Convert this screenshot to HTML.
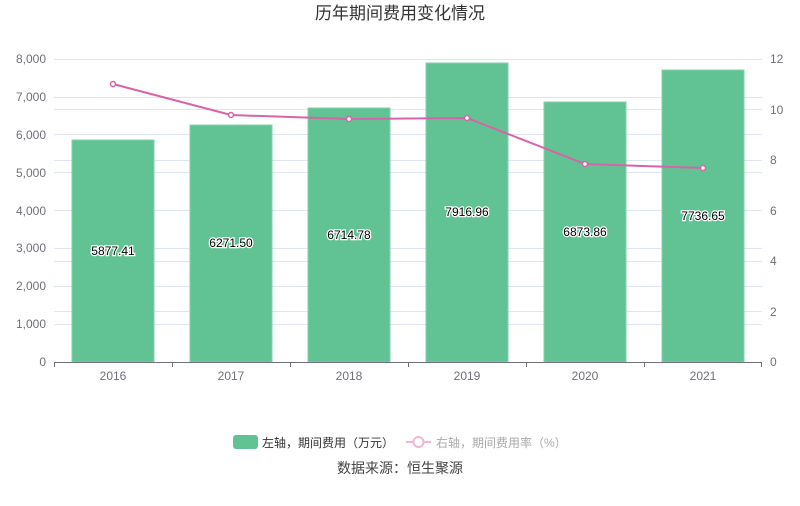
<!DOCTYPE html>
<html><head><meta charset="utf-8"><style>
body{margin:0;background:#fff;}
text{font-family:"Liberation Sans","Noto Sans CJK SC",sans-serif;}
</style></head><body>
<svg width="800" height="501" xmlns="http://www.w3.org/2000/svg">
<text x="400" y="19" font-size="17" fill="#333" text-anchor="middle">历年期间费用变化情况</text>
<g stroke="#e0e6f1" stroke-width="1">
<line x1="54" x2="762" y1="59.5" y2="59.5"/><line x1="54" x2="762" y1="97.5" y2="97.5"/>
<line x1="54" x2="762" y1="134.5" y2="134.5"/><line x1="54" x2="762" y1="172.5" y2="172.5"/>
<line x1="54" x2="762" y1="210.5" y2="210.5"/><line x1="54" x2="762" y1="248.5" y2="248.5"/>
<line x1="54" x2="762" y1="286.5" y2="286.5"/><line x1="54" x2="762" y1="324.5" y2="324.5"/>
<line x1="54" x2="762" y1="109.5" y2="109.5"/><line x1="54" x2="762" y1="160.5" y2="160.5"/>
<line x1="54" x2="762" y1="261.5" y2="261.5"/><line x1="54" x2="762" y1="311.5" y2="311.5"/>
</g>
<g font-size="12" fill="#6e7079" text-anchor="end">
<text x="46" y="63">8,000</text><text x="46" y="101">7,000</text><text x="46" y="139">6,000</text>
<text x="46" y="177">5,000</text><text x="46" y="215">4,000</text><text x="46" y="252">3,000</text>
<text x="46" y="290">2,000</text><text x="46" y="328">1,000</text><text x="46" y="366">0</text>
</g>
<g font-size="12" fill="#6e7079">
<text x="770" y="63">12</text><text x="770" y="114">10</text><text x="770" y="164">8</text>
<text x="770" y="215">6</text><text x="770" y="265">4</text><text x="770" y="316">2</text><text x="770" y="366">0</text>
</g>
<g fill="#61c394" stroke="#7fd3aa" stroke-width="1">
<rect x="72" y="140" width="82" height="222"/>
<rect x="190" y="125" width="82" height="237"/>
<rect x="308" y="108" width="82" height="254"/>
<rect x="426" y="63" width="82" height="299"/>
<rect x="544" y="102" width="82" height="260"/>
<rect x="662" y="70" width="82" height="292"/>
</g>
<line x1="54" x2="762" y1="362.5" y2="362.5" stroke="#6e7079"/>
<g stroke="#6e7079"><line x1="54.5" x2="54.5" y1="362" y2="367"/><line x1="172.5" x2="172.5" y1="362" y2="367"/><line x1="290.5" x2="290.5" y1="362" y2="367"/><line x1="408.5" x2="408.5" y1="362" y2="367"/><line x1="526.5" x2="526.5" y1="362" y2="367"/><line x1="644.5" x2="644.5" y1="362" y2="367"/><line x1="761.5" x2="761.5" y1="362" y2="367"/></g>
<g font-size="12" fill="#6e7079" text-anchor="middle">
<text x="113" y="380">2016</text><text x="231" y="380">2017</text><text x="349" y="380">2018</text>
<text x="467" y="380">2019</text><text x="585" y="380">2020</text><text x="703" y="380">2021</text>
</g>
<g font-size="12" fill="#000" text-anchor="middle" stroke="#fff" stroke-width="2.5" paint-order="stroke">
<text x="113" y="255">5877.41</text><text x="231" y="247">6271.50</text><text x="349" y="239">6714.78</text>
<text x="467" y="216">7916.96</text><text x="585" y="236">6873.86</text><text x="703" y="220">7736.65</text>
</g>
<polyline points="113,84 231,115 349,119 467,118 585,164 703,168" fill="none" stroke="#d863a8" stroke-width="2"/>
<g fill="#fff" stroke="#d863a8" stroke-width="1.5">
<circle cx="113" cy="84" r="2.5"/><circle cx="231" cy="115" r="2.5"/><circle cx="349" cy="119" r="2.5"/>
<circle cx="467" cy="118" r="2.5"/><circle cx="585" cy="164" r="2.5"/><circle cx="703" cy="168" r="2.5"/>
</g>
<rect x="233" y="435" width="25" height="14" rx="3" fill="#61c394"/>
<text x="262" y="447" font-size="12" fill="#333">左轴，期间费用（万元）</text>
<line x1="406" x2="431" y1="442" y2="442" stroke="#f0b5d7" stroke-width="2"/>
<circle cx="418.5" cy="442" r="5" fill="#fff" stroke="#f0b5d7" stroke-width="2"/>
<text x="436" y="447" font-size="12" fill="#aaa">右轴，期间费用率（%）</text>
<text x="400" y="473" font-size="14" fill="#444" text-anchor="middle">数据来源：恒生聚源</text>
</svg>
</body></html>
